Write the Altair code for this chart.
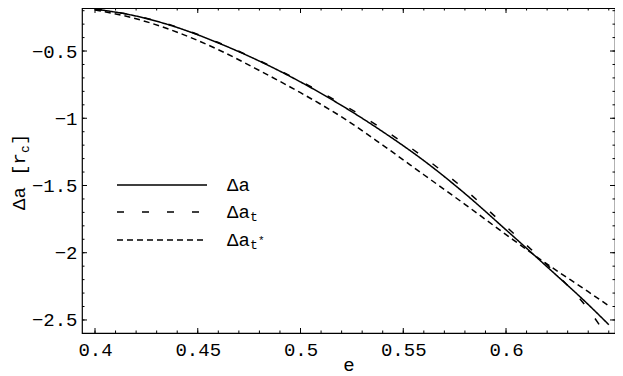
import altair as alt
import pandas as pd
import numpy as np

# ---- data ----
e_vals = [0.40, 0.42, 0.44, 0.46, 0.48, 0.50, 0.52, 0.54, 0.56, 0.58, 0.60, 0.62, 0.64, 0.65]
da = [-0.188, -0.240, -0.325, -0.440, -0.575, -0.730, -0.905, -1.100, -1.315, -1.560, -1.830, -2.105, -2.385, -2.535]
da_t = [-0.188, -0.238, -0.322, -0.437, -0.572, -0.725, -0.893, -1.080, -1.290, -1.530, -1.805, -2.090, -2.420, -2.640]
da_ts = [-0.195, -0.260, -0.360, -0.490, -0.645, -0.810, -0.990, -1.200, -1.420, -1.640, -1.865, -2.085, -2.290, -2.395]
series_names = ["Δa", "Δa_t", "Δa_t*"]
series_dash = [[1, 0], [7, 18], [6, 4]]

x_ticks = [0.4, 0.45, 0.5, 0.55, 0.6]
y_ticks = [-2.5, -2.0, -1.5, -1.0, -0.5]
x_minor = [round(v, 2) for v in np.arange(0.40, 0.655, 0.01)]
y_minor = [round(v, 1) for v in np.arange(-2.5, -0.15, 0.1)]

X_DOMAIN = [0.39367, 0.65303]
Y_DOMAIN = [-2.597, -0.180]

W, H = 533, 325
FONT = "Liberation Mono"
FS = 19
MAJ, MIN = 5, 2.5

df = pd.DataFrame({
    "e": e_vals * 3,
    "v": da + da_t + da_ts,
    "s": [n for n in series_names for _ in e_vals],
})

xs = alt.Scale(domain=X_DOMAIN, nice=False, zero=False)
ys = alt.Scale(domain=Y_DOMAIN, nice=False, zero=False)

x_axis = alt.Axis(
    values=x_ticks, title="e", labelExpr="toString(datum.value)",
    ticks=False, tickSize=0, domain=False, grid=False, labelPadding=7, titlePadding=-4,
    labelFont=FONT, labelFontSize=FS, titleFont=FONT, titleFontSize=FS,
    titleFontWeight="normal", labelColor="black", titleColor="black")
y_axis = alt.Axis(
    values=y_ticks, title=None, labelExpr="replace(toString(datum.value), '-', '−')",
    ticks=False, tickSize=0, domain=False, grid=False, labelPadding=5,
    labelFont=FONT, labelFontSize=FS, labelColor="black")

lines = alt.Chart(df).mark_line(color="black", strokeWidth=1.5, interpolate="monotone", clip=True).encode(
    x=alt.X("e:Q", scale=xs, axis=x_axis),
    y=alt.Y("v:Q", scale=ys, axis=y_axis),
    strokeDash=alt.StrokeDash("s:N", scale=alt.Scale(domain=series_names, range=series_dash), legend=None),
)

def xtick(vals, length, top):
    d = pd.DataFrame({"e": vals})
    if top:
        yy, yy2 = alt.value(0), alt.value(length)
    else:
        yy, yy2 = alt.value(H), alt.value(H - length)
    return alt.Chart(d).mark_rule(color="black", strokeWidth=1).encode(
        x=alt.X("e:Q", scale=xs, axis=x_axis), y=yy, y2=yy2)

def ytick(vals, length, right):
    d = pd.DataFrame({"v": vals})
    if right:
        xx, xx2 = alt.value(W), alt.value(W - length)
    else:
        xx, xx2 = alt.value(0), alt.value(length)
    return alt.Chart(d).mark_rule(color="black", strokeWidth=1).encode(
        y=alt.Y("v:Q", scale=ys, axis=y_axis), x=xx, x2=xx2)

ticks = [
    xtick(x_minor, MIN, False), xtick(x_minor, MIN, True),
    xtick(x_ticks, MAJ, False), xtick(x_ticks, MAJ, True),
    ytick(y_minor, MIN, False), ytick(y_minor, MIN, True),
    ytick(y_ticks, MAJ, False), ytick(y_ticks, MAJ, True),
]

one = pd.DataFrame({"k": [0]})

def txt(t, x, y, size=FS, angle=0, align="left", baseline="alphabetic"):
    kw = dict(text=t, font=FONT, fontSize=size, color="black", align=align, baseline=baseline)
    if angle:
        kw["angle"] = angle
    return alt.Chart(one).mark_text(**kw).encode(x=alt.value(x), y=alt.value(y))

# y-axis title "Δa [r_c]"
ytitle = [
    txt("Δa [r", -57, 202, angle=270),
    txt("c", -53, 145, size=13, angle=270),
    txt("]", -57, 137, angle=270),
]

# legend
rows = [177, 204, 232]
legend = []
for name, dash, ry in zip(series_names, series_dash, rows):
    legend.append(alt.Chart(one).mark_rule(color="black", strokeWidth=1.5, strokeDash=dash).encode(
        x=alt.value(35), x2=alt.value(125), y=alt.value(ry)))
    legend.append(txt("Δa", 145, ry + 6))
legend.append(txt("t", 168, rows[1] + 9, size=13))
legend.append(txt("t", 168, rows[2] + 9, size=13))
legend.append(txt("*", 176, rows[2] + 4, size=11))

chart = alt.layer(lines, *ticks, *ytitle, *legend).properties(
    width=W, height=H,
    padding={"left": 74, "top": 0, "right": 0, "bottom": 43},
    autosize=alt.AutoSizeParams(type="none"),
    background="white",
).configure_view(stroke="black", strokeWidth=1.2)

chart.save("out.html", embed_options={"renderer": "svg", "actions": False})
